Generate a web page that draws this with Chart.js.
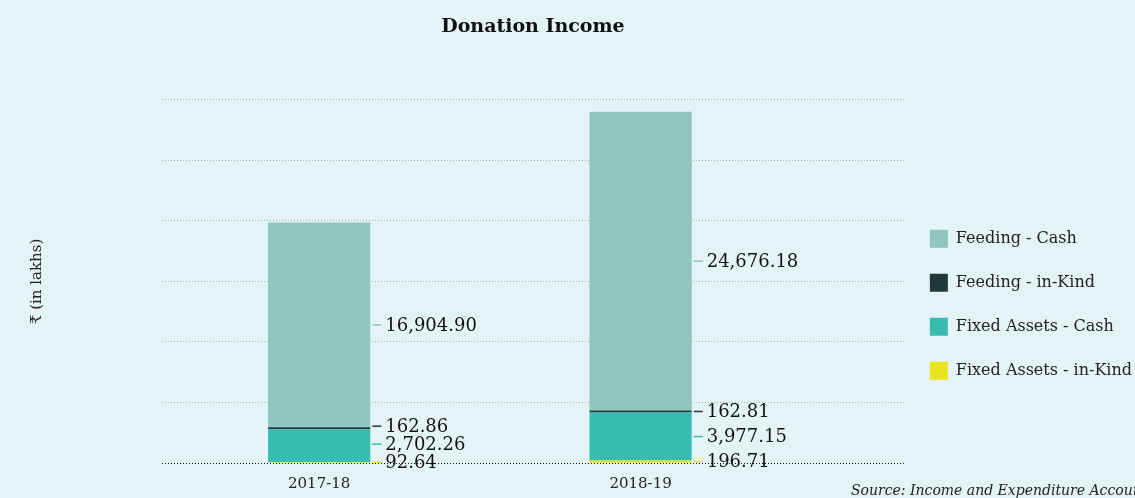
<!DOCTYPE html>
<html>
<head>
<meta charset="utf-8">
<script src="https://cdn.jsdelivr.net/npm/chart.js@4"></script>
<style>
  html, body { margin: 0; padding: 0; background: #e4f3f6; overflow: hidden; }
  #wrap { position: relative; width: 1135px; height: 498px; overflow: hidden; }
  #source { position: absolute; left: 851px; top: 482px; white-space: nowrap;
    font: italic 14px 'DejaVu Serif', serif; color: #222; }
</style>
</head>
<body>
<div id="wrap">
  <canvas id="donation_chart"></canvas>
  <div id="source">Source: Income and Expenditure Accounts</div>
</div>
<script>
var years = ['2017-18', '2018-19']
var feedingCash = [16904.90, 24676.18]
var feedingKind = [162.86, 162.81]
var assetsCash = [2702.26, 3977.15]
var assetsKind = [92.64, 196.71]

// lower segments first so they stack at the bottom
var seriesNames = ['Fixed Assets - in-Kind', 'Fixed Assets - Cash', 'Feeding - in-Kind', 'Feeding - Cash']
var seriesData = [assetsKind, assetsCash, feedingKind, feedingCash]
var seriesColors = ['#e8e41e', '#37bdb0', '#21393a', '#8fc6c0']

Chart.defaults.font.family = "'DejaVu Serif', serif"
Chart.defaults.color = '#222'

function toPoints(arr){
  return arr.map(function(v, i){ return {x: i, y: v} })
}

// value labels with a short leader on the right side of each segment
const sideLabels = {
  id: 'sideLabels',
  afterDatasetsDraw(chart){
    const ctx = chart.ctx
    ctx.save()
    ctx.font = "18px 'DejaVu Serif', serif"
    ctx.textBaseline = 'middle'
    for (let i = 0; i < years.length; i++){
      let prev = null
      chart.data.datasets.forEach(function(ds, d){
        const el = chart.getDatasetMeta(d).data[i]
        let y = (el.y + el.base) / 2
        if (prev !== null && y > prev - 18) y = prev - 18
        prev = y
        const x = el.x + el.width / 2
        ctx.strokeStyle = ds.backgroundColor
        ctx.lineWidth = 1.5
        ctx.beginPath()
        ctx.moveTo(x + 2, y)
        ctx.lineTo(x + 11, y)
        ctx.stroke()
        ctx.fillStyle = '#111'
        ctx.fillText(ds.data[i].y.toLocaleString('en-US', {minimumFractionDigits: 2}), x + 15, y + 1)
      })
    }
    ctx.restore()
  }
}

var ctx = document.getElementById('donation_chart').getContext('2d')
var donationChart = new Chart(ctx, {
  type: 'bar',
  plugins: [sideLabels],
  data: {
    datasets: seriesNames.map(function(name, k){
      return {
        label: name,
        data: toPoints(seriesData[k]),
        backgroundColor: seriesColors[k],
        borderWidth: 0,
        categoryPercentage: 1,
        barPercentage: 0.318
      }
    })
  },
  options: {
    responsive: true,
    maintainAspectRatio: false,
    animation: false,
    layout: {
      padding: { left: 28, right: -7, top: 0, bottom: 1 }
    },
    scales: {
      x: {
        type: 'linear',
        stacked: true,
        offset: false,
        bounds: 'data',
        min: -0.489,
        max: 1.819,
        afterBuildTicks: function(scale){
          scale.ticks = years.map(function(y, i){ return {value: i} })
        },
        grid: { display: false, offset: false },
        border: { display: false },
        ticks: {
          padding: 4,
          font: { size: 15 },
          callback: function(v){ return years[v] }
        }
      },
      y: {
        stacked: true,
        min: 0,
        max: 30000,
        ticks: { display: false, stepSize: 5000 },
        grid: {
          drawTicks: false,
          color: function(c){ return c.tick && c.tick.value === 0 ? '#111' : '#9fb3b6' }
        },
        border: { display: false, dash: [1, 2] },
        title: {
          display: true,
          text: '₹ (in lakhs)',
          font: { size: 15 },
          padding: { top: 0, bottom: 116 }
        }
      }
    },
    plugins: {
      legend: {
        display: true,
        position: 'right',
        reverse: true,
        title: {
          display: true,
          text: '',
          padding: { top: 98, bottom: 0 }
        },
        labels: {
          boxWidth: 18,
          boxHeight: 18,
          padding: 26,
          font: { size: 16 }
        }
      },
      title: {
        display: true,
        fullSize: false,
        text: 'Donation Income',
        color: '#111',
        font: { size: 19, weight: 'bold' },
        padding: { top: 16, bottom: 61 }
      },
      tooltip: { enabled: false }
    }
  }
})
</script>
</body>
</html>
